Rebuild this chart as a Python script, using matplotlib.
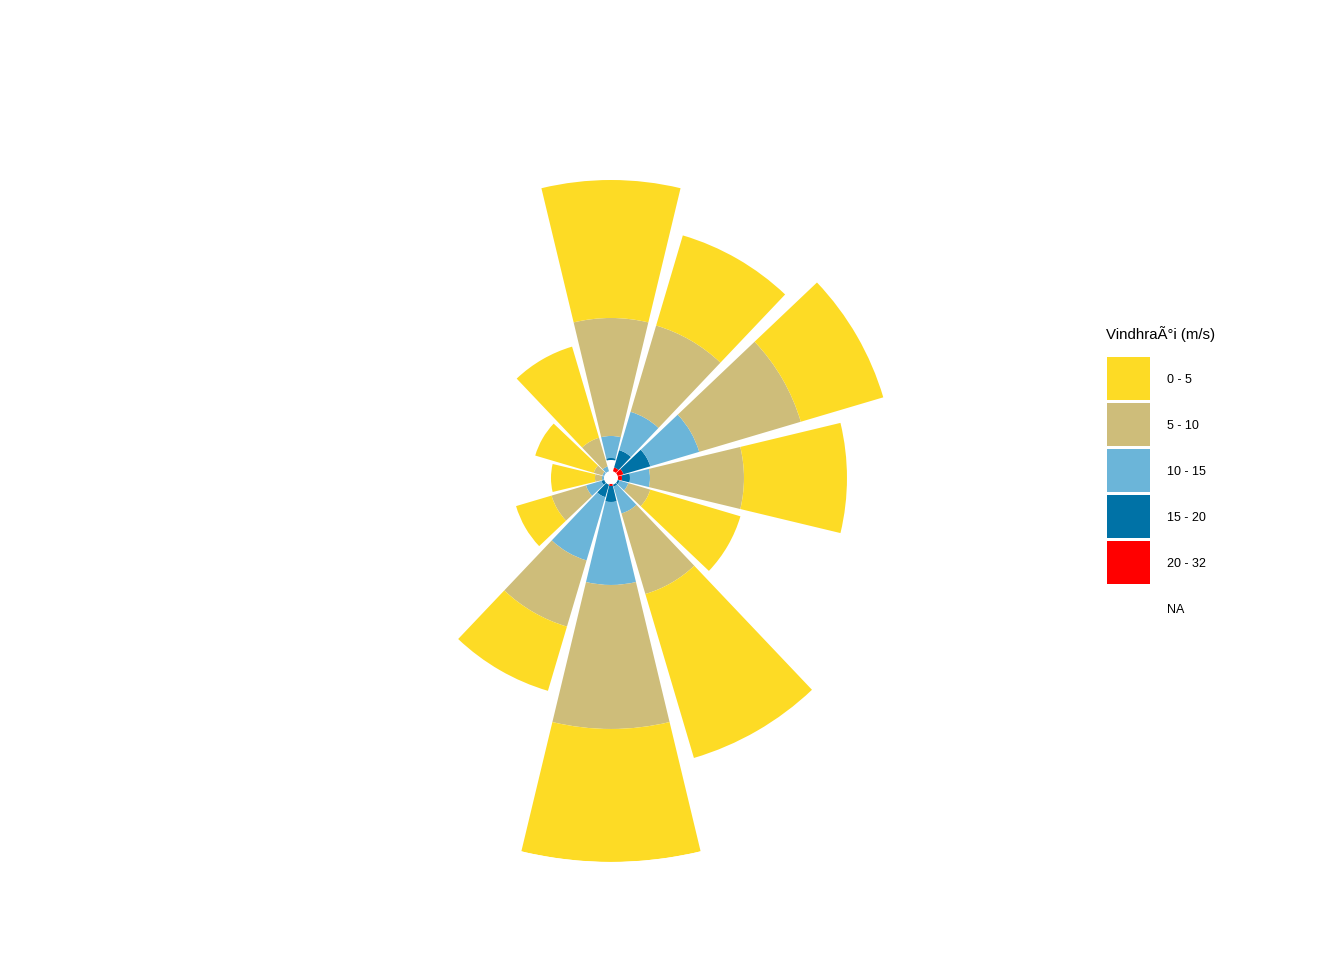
import matplotlib.pyplot as plt
import numpy as np
from matplotlib.patches import Rectangle

plt.rcParams['font.family'] = ['Liberation Sans', 'DejaVu Sans']

# wind directions (degrees, clockwise from north)
directions = [0, 30, 60, 90, 120, 150, 180, 210, 240, 270, 300, 330]

# stacked amounts per speed class, innermost (NA) first
na_vals = [18, 7, 7, 7, 7, 7, 6, 7, 7, 7, 7, 7]
v20_32 = [0, 4, 6, 4, 0, 0, 2, 0, 0, 0, 0, 0]
v15_20 = [2, 18, 28, 8, 2, 2, 16, 13, 3, 0, 0, 0]
v10_15 = [22, 40, 51, 20, 9, 28, 83, 66, 16, 2, 2, 5]
v5_10 = [118, 90, 106, 94, 23, 84, 144, 69, 36, 7, 9, 30]
v0_5 = [138, 94, 86, 103, 94, 171, 133, 67, 37, 44, 61, 95]

labels = ['0 - 5', '5 - 10', '10 - 15', '15 - 20', '20 - 32', 'NA']
colors = ['#FDDB25', '#CEBD7A', '#6BB5D9', '#0072A6', '#FF0000', 'white']

fig = plt.figure(figsize=(13.44, 9.6), dpi=100)
ax = fig.add_axes([0.1689, 0.1021, 0.5714, 0.8], projection='polar')
ax.set_theta_zero_location('N')
ax.set_theta_direction(-1)

theta = np.deg2rad(directions)
width = np.deg2rad(30) * 0.9

# draw from inside out
stack = [na_vals, v20_32, v15_20, v10_15, v5_10, v0_5]
stack_cols = ['white', '#FF0000', '#0072A6', '#6BB5D9', '#CEBD7A', '#FDDB25']
bottom = np.zeros(len(directions))
for vals, col in zip(stack, stack_cols):
    vals = np.array(vals, dtype=float)
    ax.bar(theta, vals, width=width, bottom=bottom, color=col, linewidth=0)
    bottom += vals

ax.set_ylim(0, 384)
ax.set_xticks([])
ax.set_yticks([])
ax.grid(False)
ax.spines['polar'].set_visible(False)
ax.patch.set_alpha(0)

# legend
W, H = 1344, 960
fig.text(1106 / W, 1 - 334 / H, 'VindhraÃ°i (m/s)', fontsize=10.8, va='center', ha='left')
for i, (lab, col) in enumerate(zip(labels, colors)):
    top = 357 + i * 46
    fig.patches.append(Rectangle((1107 / W, 1 - (top + 43) / H), 43 / W, 43 / H,
                                 transform=fig.transFigure, facecolor=col, edgecolor='none'))
    fig.text(1167 / W, 1 - (top + 23) / H, lab, fontsize=9, va='center', ha='left')

plt.savefig('out.png', dpi=100)
